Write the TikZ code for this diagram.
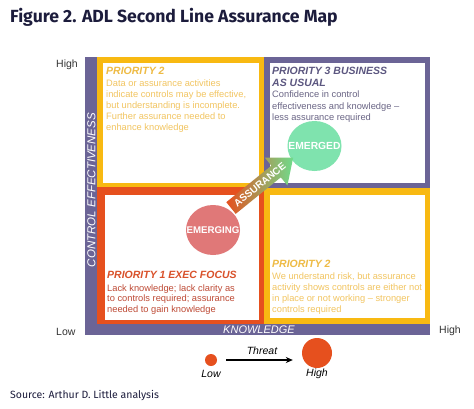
\documentclass[tikz,border=0pt]{standalone}
\usepackage{fontspec}
\setmainfont{Liberation Sans}
\newfontfamily\titlefont{Fira Sans}
\usetikzlibrary{shapes.geometric,arrows.meta}
\definecolor{adlpurple}{HTML}{6B6496}
\definecolor{adlyellow}{HTML}{F8B912}
\definecolor{adlorange}{HTML}{E6501E}
\definecolor{goldtext}{HTML}{F2C561}
\definecolor{goldhead}{HTML}{EEBB45}
\definecolor{purptext}{HTML}{6A6585}
\definecolor{purphead}{HTML}{5C5780}
\definecolor{redtext}{HTML}{BE4A35}
\definecolor{redhead}{HTML}{D9512A}
\definecolor{emergingc}{HTML}{E07878}
\definecolor{emergedc}{HTML}{7FE3AE}
\definecolor{arrowgreen}{HTML}{6FDC8C}
\definecolor{titlec}{HTML}{1C1C3C}
\definecolor{axistext}{HTML}{333333}
\begin{document}
\begin{tikzpicture}[x=1pt,y=-1pt,
  txt/.style={anchor=base west, inner sep=0, font=\fontsize{9.3}{11}\selectfont},
  headtxt/.style={anchor=base west, inner sep=0, font=\fontsize{10.5}{12}\selectfont\bfseries\itshape},
  ticktxt/.style={anchor=base west, inner sep=0, font=\fontsize{10.5}{12}\selectfont, text=axistext},
  blob/.style={ellipse, minimum width=54, minimum height=50, inner sep=0},
  blobtxt/.style={inner sep=0, text=white, font=\fontsize{9.7}{10}\selectfont\bfseries},
  legtxt/.style={inner sep=0, font=\fontsize{10.5}{12}\selectfont\itshape},
  legdot/.style={circle, fill=adlorange, inner sep=0}]
\useasboundingbox (0,0) rectangle (474,408);
\fill[white] (0,0) rectangle (474,408);

\node[anchor=base west, inner sep=0, font=\titlefont\fontsize{17.6}{20}\selectfont\bfseries, text=titlec] (title) at (10,22) {Figure 2. ADL Second Line Assurance Map};

% ticks
\node[ticktxt] (hightop) at (56,67) {High};
\node[ticktxt] (lowleft) at (56,335) {Low};
\node[ticktxt] (highright) at (439,333) {High};

% frames
\fill[adlpurple] (85,57) rectangle (430,335);
\fill[adlyellow] (97,57) rectangle (264,187);
\fill[white] (103,63) rectangle (259,183);
\fill[white] (270,63) rectangle (425,183);
\fill[adlyellow] (264,188) rectangle (430,324);
\fill[white] (270,195) rectangle (425,318);
\fill[adlorange] (97,187) rectangle (264,324);
\fill[white] (105,195) rectangle (259,320);

% axis labels
\node[rotate=90, font=\fontsize{11.5}{12}\selectfont\itshape, text=white, inner sep=0] (yaxis) at (91.5,190) {CONTROL EFFECTIVENESS};
\node[font=\fontsize{11}{12}\selectfont\itshape, text=white, inner sep=0] (xaxis) at (259,329.5) {KNOWLEDGE};

% top left
\node[headtxt, text=goldhead] (tlh) at (106,74.5) {PRIORITY 2};
\foreach \t [count=\i] in {Data or assurance activities, {indicate controls may be effective,}, but understanding is incomplete., Further assurance needed to, enhance knowledge}
  \node[txt, text=goldtext] (tl\i) at (106,{86+11*(\i-1)}) {\t};

% top right
\node[headtxt, text=purphead] (trh1) at (272,74.5) {PRIORITY 3 BUSINESS};
\node[headtxt, text=purphead] (trh2) at (272,86.5) {AS USUAL};
\foreach \t [count=\i] in {Confidence in control, effectiveness and knowledge --, less assurance required}
  \node[txt, text=purptext] (tr\i) at (272,{97.8+11.3*(\i-1)}) {\t};

% bottom left
\node[headtxt, text=redhead] (blh) at (107,278.8) {PRIORITY 1 EXEC FOCUS};
\foreach \t [count=\i] in {Lack knowledge; lack clarity as, to controls required; assurance, needed to gain knowledge}
  \node[txt, text=redtext] (bl\i) at (107,{291+10.7*(\i-1)}) {\t};

% bottom right
\node[headtxt, text=goldhead] (brh) at (272,267) {PRIORITY 2};
\foreach \t [count=\i] in {{We understand risk, but assurance}, activity shows controls are either not, in place or not working -- stronger, controls required}
  \node[txt, text=goldtext] (br\i) at (272,{279.3+11*(\i-1)}) {\t};

% blobs
\node[blob, fill=emergingc] (emerging) at (213,230) {};
\node[blobtxt] (emergingtxt) at (emerging) {EMERGING};
\node[blob, fill=emergedc] (emerged) at (314.5,146) {};
\node[blobtxt, font=\fontsize{10.3}{11}\selectfont\bfseries] (emergedtxt) at (emerged) {EMERGED};

% assurance arrow
\coordinate (arrstart) at (231,208);
\begin{scope}[shift={(arrstart)}, rotate=39]
  \shade[left color=adlorange, right color=arrowgreen]
    (0,-7.5) -- (58,-7.5) -- (58,-18) -- (80,0) -- (58,18) -- (58,7.5) -- (0,7.5) -- cycle;
  \node[rotate=39, inner sep=0, text=white, font=\fontsize{10}{11}\selectfont\bfseries] (assurtxt) at (37,0) {ASSURANCE};
\end{scope}

% legend
\node[legdot, minimum size=12] (lowdot) at (211,360) {};
\node[legdot, minimum size=30] (highdot) at (317,353) {};
\draw[-{Stealth[length=7pt,width=6pt]}, line width=1.1pt, black] ([xshift=9pt]lowdot.east) -- ([xshift=-9pt]highdot.west |- lowdot.east);
\node[legtxt] (threat) at (262,351) {Threat};
\node[legtxt] (lowlab) at (211,374) {Low};
\node[legtxt] (highlab) at (317,374) {High};

\node[anchor=base west, inner sep=0, font=\titlefont\fontsize{10.5}{12}\selectfont, text=titlec] (source) at (10,398) {Source: Arthur D. Little analysis};
\end{tikzpicture}
\end{document}
